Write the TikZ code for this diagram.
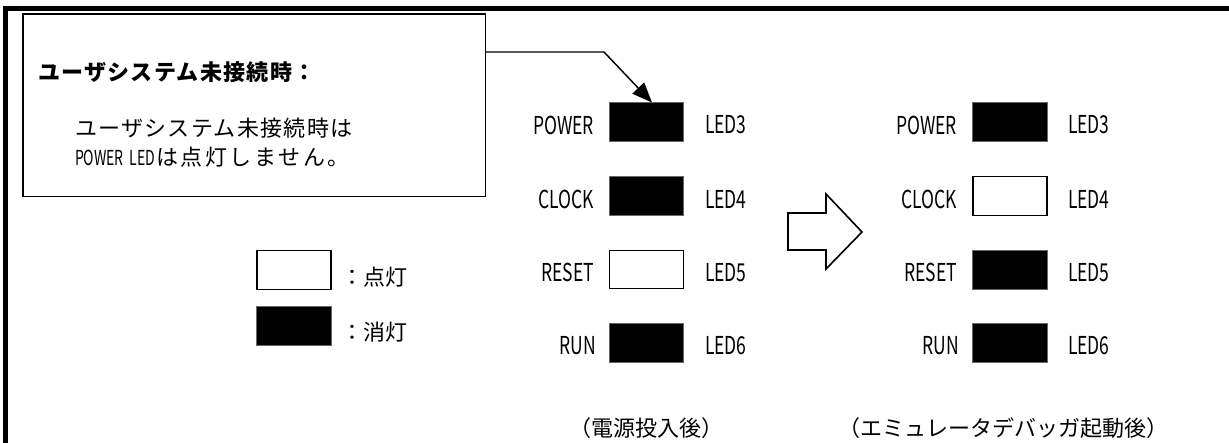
\documentclass[tikz,border=0pt]{standalone}
\usepackage{fontspec}
\usepackage{graphicx}
\setmainfont{Noto Sans CJK JP}
\newfontfamily\jpsp{Noto Sans CJK JP}[LetterSpace=6]
\newfontfamily\jpspw{Noto Sans CJK JP}[LetterSpace=12]
\usetikzlibrary{arrows.meta,calc}
\newcommand{\nar}[2]{\scalebox{#1}[1]{#2}}
\begin{document}
\begin{tikzpicture}[x=0.75pt,y=-0.75pt,
  every node/.style={inner sep=0pt, outer sep=0pt},
  ledon/.style={draw=black, fill=white, line width=0.9pt, minimum width=55.5pt, minimum height=28.8pt},
  ledoff/.style={draw=black!60, fill=black, line width=0.5pt, minimum width=55.8pt, minimum height=29.2pt},
  lbl/.style={font=\fontsize{18.5}{20}\selectfont},
  jp/.style={font=\fontsize{16.5}{19}\selectfont},
  cjkbig/.style={font=\fontsize{16.5}{19}\selectfont},
  frame/.style={fill=black},
  thinline/.style={line width=1.1pt}]
\useasboundingbox (0,0) rectangle (1229,443);
% outer frame (top and left only)
\fill[frame] (3,6) rectangle (1229,11);
\fill[frame] (3,6) rectangle (8,443);

% callout box
\node[draw, thinline, minimum width=347pt, minimum height=137pt, anchor=north west] (callout) at (23,14) {};
\node[cjkbig, anchor=west] (title) at (38,72) {\bfseries\jpsp ユーザシステム未接続時：};
\node[cjkbig, anchor=west] (body1) at (75,128) {\jpsp ユーザシステム未接続時は};
\node[anchor=west, font=\fontsize{15.5}{18}\selectfont] (body2a) at (75,158) {\nar{0.68}{POWER}\hspace{4.5pt}\nar{0.68}{LED}};
\node[cjkbig, anchor=west] (body2b) at (156,157) {\jpspw は点灯しません。};

% left panel LEDs
\node[ledoff] (p1) at (646.5,122) {};
\node[ledoff] (c1) at (646.5,196) {};
\node[ledon]  (r1) at (646.5,269.5) {};
\node[ledoff] (u1) at (646.5,343) {};
\node[lbl, anchor=east] (lp1) at (594,125) {\nar{0.71}{POWER}};
\node[lbl, anchor=east] (lc1) at (594,199) {\nar{0.71}{CLOCK}};
\node[lbl, anchor=east] (lr1) at (594,272.5) {\nar{0.71}{RESET}};
\node[lbl, anchor=east] (lu1) at (596,346) {\nar{0.71}{RUN}};
\node[lbl, anchor=west] (np1) at (705,125) {\nar{0.71}{LED3}};
\node[lbl, anchor=west] (nc1) at (705,199) {\nar{0.71}{LED4}};
\node[lbl, anchor=west] (nr1) at (705,272.5) {\nar{0.71}{LED5}};
\node[lbl, anchor=west] (nu1) at (705,346) {\nar{0.71}{LED6}};

% right panel LEDs
\node[ledoff] (p2) at (1010,122) {};
\node[ledon]  (c2) at (1010,196) {};
\node[ledoff] (r2) at (1010,269.5) {};
\node[ledoff] (u2) at (1010,343) {};
\node[lbl, anchor=east] (lp2) at (957,125) {\nar{0.71}{POWER}};
\node[lbl, anchor=east] (lc2) at (957,199) {\nar{0.71}{CLOCK}};
\node[lbl, anchor=east] (lr2) at (957,272.5) {\nar{0.71}{RESET}};
\node[lbl, anchor=east] (lu2) at (959,346) {\nar{0.71}{RUN}};
\node[lbl, anchor=west] (np2) at (1068,125) {\nar{0.71}{LED3}};
\node[lbl, anchor=west] (nc2) at (1068,199) {\nar{0.71}{LED4}};
\node[lbl, anchor=west] (nr2) at (1068,272.5) {\nar{0.71}{LED5}};
\node[lbl, anchor=west] (nu2) at (1068,346) {\nar{0.71}{LED6}};

% leader arrow from callout to POWER LED
\coordinate (bend) at (604,52);
\draw[thinline, -{Triangle[length=15pt, width=12pt]}] (callout.east |- bend) -- (bend) -- ($(p1.north)+(5.5,0)$);

% hollow block arrow
\draw[line width=1.2pt, fill=white] (788,213) -- (826,213) -- (826,194) -- (862,232) -- (826,269) -- (826,250) -- (788,250) -- cycle;

% legend
\node[ledon] (lgon) at (294,270) {};
\node[ledoff] (lgoff) at (294,325.5) {};
\node[jp, anchor=west] (tgon) at (341,277) {：点灯};
\node[jp, anchor=west] (tgoff) at (341,332) {：消灯};

% captions
\node[jp] (cap1) at (646.5,428) {（電源投入後）};
\node[jp] (cap2) at (1003.5,428) {（エミュレータデバッガ起動後）};
\end{tikzpicture}
\end{document}
